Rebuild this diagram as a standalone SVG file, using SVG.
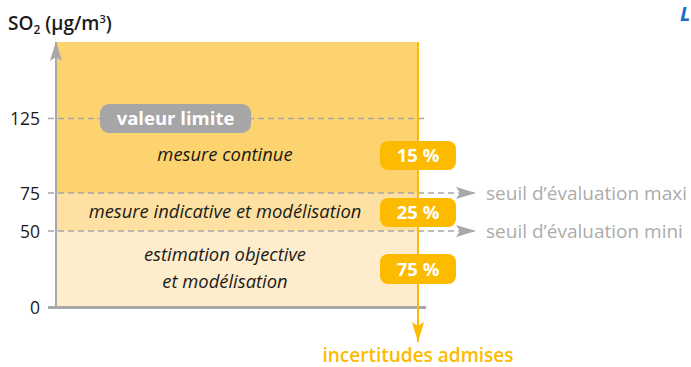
<svg xmlns="http://www.w3.org/2000/svg" width="691" height="367" viewBox="0 0 691 367">
  <defs>
    <style>
      text { font-family: "Open Sans", "Noto Sans", sans-serif; }
      .tick { font-size: 17.5px; fill: #1a1a1a; text-anchor: end; }
      .zone { font-size: 18.4px; font-style: italic; fill: #1a1a1a; text-anchor: middle; }
      .pill-g { fill: #a6a6a6; }
      .pill-o { fill: #fdbb00; }
      .pill-t { font-size: 18.5px; font-weight: bold; fill: #ffffff; text-anchor: middle; }
      .seuil { font-size: 19px; fill: #acacac; }
      .dash { stroke: #a8a8a8; stroke-width: 1.6; stroke-dasharray: 6 4; fill: none; }
      .axis { stroke: #a8a8a8; fill: none; }
    </style>
    <marker id="grayHead" viewBox="0 0 20 12" refX="19" refY="6" markerWidth="20" markerHeight="12" markerUnits="userSpaceOnUse" orient="auto">
      <path d="M0,0 L20,6 L0,12 L4,6 Z" fill="#a8a8a8"/>
    </marker>
    <marker id="dashHead" viewBox="0 0 20 12" refX="20" refY="6" markerWidth="20" markerHeight="12" markerUnits="userSpaceOnUse" orient="auto">
      <path d="M0,0 L20,6 L0,12 L4,6 Z" fill="#a8a8a8"/>
    </marker>
    <marker id="orangeHead" viewBox="0 0 20 12" refX="20" refY="6" markerWidth="20" markerHeight="12" markerUnits="userSpaceOnUse" orient="auto">
      <path d="M0,0 L20,6 L0,12 L4,6 Z" fill="#fdbb00"/>
    </marker>
  </defs>

  <!-- concentration bands -->
  <g id="bands">
    <rect x="56" y="42" width="362" height="151" fill="#fdd36f"/>
    <rect x="56" y="193" width="362" height="38" fill="#fee1a2"/>
    <rect x="56" y="231" width="362" height="76" fill="#feedcc"/>
  </g>

  <!-- axes and connectors -->
  <g id="connectors">
    <line class="axis" x1="56" y1="307" x2="56" y2="42" stroke-width="2" marker-end="url(#grayHead)"/>
    <line class="dash" x1="48" y1="118.5" x2="426" y2="118.5"/>
    <line class="dash" x1="48" y1="193" x2="476" y2="193" marker-end="url(#dashHead)"/>
    <line class="dash" x1="48" y1="231" x2="476" y2="231" marker-end="url(#dashHead)"/>
    <line class="axis" x1="48" y1="307.5" x2="426" y2="307.5" stroke-width="3"/>
    <line x1="418" y1="42" x2="418" y2="342" stroke="#fdbb00" stroke-width="2" marker-end="url(#orangeHead)"/>
  </g>

  <!-- axis labels -->
  <g id="axis-labels">
    <text x="8" y="30" font-size="19" font-weight="600" fill="#1a1a1a">SO<tspan font-size="12" dy="4">2</tspan><tspan dy="-4"> (µg/m</tspan><tspan font-size="11" dy="-7">3</tspan><tspan dy="7">)</tspan></text>
    <text class="tick" x="40" y="124.5">125</text>
    <text class="tick" x="40" y="199.5">75</text>
    <text class="tick" x="40" y="237.5">50</text>
    <text class="tick" x="40" y="313.5">0</text>
  </g>

  <g id="valeur-limite">
    <rect class="pill-g" x="100" y="104" width="151" height="29" rx="9"/>
    <text class="pill-t" x="175.5" y="125">valeur limite</text>
  </g>

  <g id="mesure-continue">
    <text class="zone" x="225" y="161">mesure continue</text>
  </g>
  <g id="mesure-indicative">
    <text class="zone" x="225" y="218">mesure indicative et modélisation</text>
  </g>
  <g id="estimation">
    <text class="zone" x="225" y="261">estimation objective</text>
    <text class="zone" x="225" y="288">et modélisation</text>
  </g>

  <g id="pill-15">
    <rect class="pill-o" x="380" y="141" width="76" height="29" rx="8"/>
    <text class="pill-t" x="418" y="162">15 %</text>
  </g>
  <g id="pill-25">
    <rect class="pill-o" x="380" y="198" width="76" height="29" rx="8"/>
    <text class="pill-t" x="418" y="219">25 %</text>
  </g>
  <g id="pill-75">
    <rect class="pill-o" x="380" y="254" width="76" height="30" rx="8"/>
    <text class="pill-t" x="418" y="275.5">75 %</text>
  </g>

  <g id="seuil-maxi">
    <text class="seuil" x="486" y="199.5">seuil d’évaluation maxi</text>
  </g>
  <g id="seuil-mini">
    <text class="seuil" x="486" y="237.5">seuil d’évaluation mini</text>
  </g>

  <g id="incertitudes">
    <text x="418" y="362" font-size="19" font-weight="600" fill="#fdbb00" text-anchor="middle">incertitudes admises</text>
  </g>

  <g id="corner-letter">
    <text x="680" y="21" font-size="20" font-weight="bold" font-style="italic" fill="#1b6fc2">L</text>
  </g>
</svg>
